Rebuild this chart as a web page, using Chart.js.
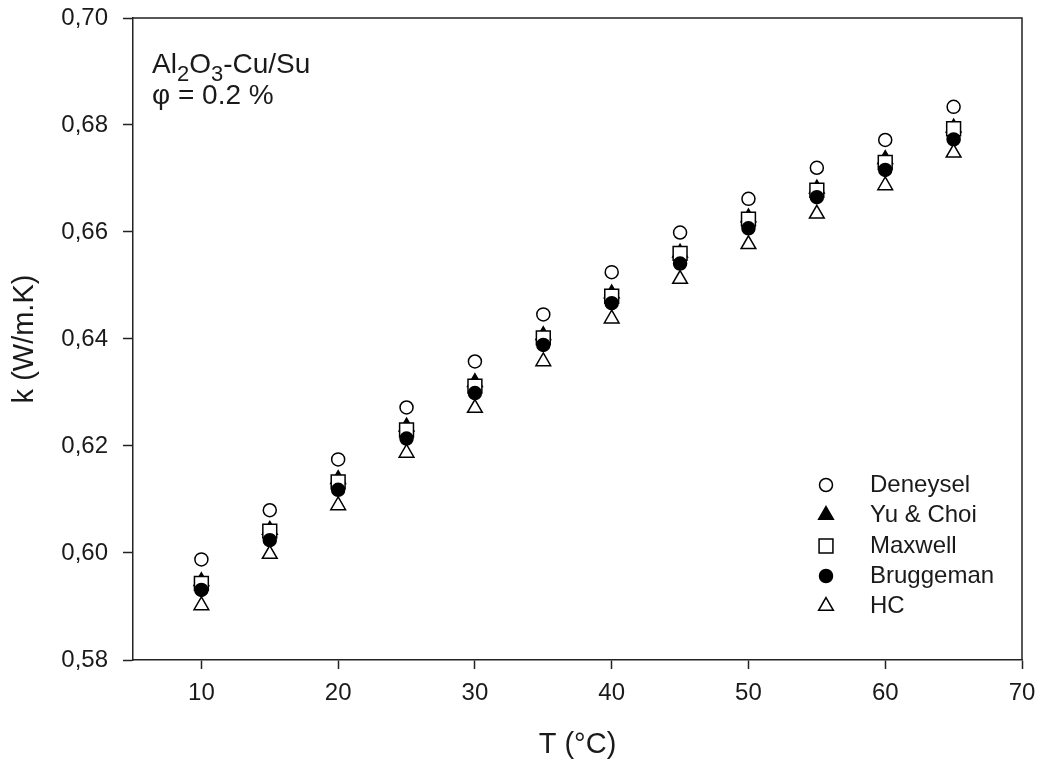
<!DOCTYPE html>
<html><head><meta charset="utf-8">
<script src="https://cdn.jsdelivr.net/npm/chart.js@4.4.1/dist/chart.umd.min.js"></script>
<style>html,body{margin:0;padding:0;background:#fff}canvas{display:block}</style>
</head><body>
<canvas id="c" width="1048" height="772"></canvas>
<script>
// ---- data ----
const temperatures = [10, 15, 20, 25, 30, 35, 40, 45, 50, 55, 60, 65];
const deneysel  = [0.5988, 0.6080, 0.6175, 0.6272, 0.6358, 0.6446, 0.6525, 0.6599, 0.6662, 0.6720, 0.6772, 0.6834];
const yuChoi    = [0.5947, 0.6043, 0.6138, 0.6236, 0.6319, 0.6407, 0.6485, 0.6561, 0.6627, 0.6681, 0.6736, 0.6795];
const maxwell   = [0.5943, 0.6041, 0.6133, 0.6230, 0.6312, 0.6402, 0.6480, 0.6560, 0.6624, 0.6678, 0.6730, 0.6793];
const bruggeman = [0.5931, 0.6024, 0.6118, 0.6214, 0.6299, 0.6389, 0.6467, 0.6541, 0.6607, 0.6665, 0.6716, 0.6773];
const hc        = [0.5902, 0.5998, 0.6089, 0.6187, 0.6271, 0.6358, 0.6438, 0.6512, 0.6577, 0.6634, 0.6687, 0.6748];
const xTickValues = [10, 20, 30, 40, 50, 60, 70];
const yTickValues = [0.58, 0.60, 0.62, 0.64, 0.66, 0.68, 0.70];
const seriesNames = ['Deneysel', 'Yu & Choi', 'Maxwell', 'Bruggeman', 'HC'];
const xTitle = 'T (°C)';
const yTitle = 'k (W/m.K)';

// ---- styling ----
const FONT = "'Liberation Sans', Arial, Helvetica, sans-serif";
const INK = '#1a1a1a';
const LINE = '#222';

function pts(vals) { return temperatures.map((t, i) => ({ x: t, y: vals[i] })); }

const styles = [
  { pointStyle: 'circle',   radius: 6.5, fill: '#ffffff', order: 1 },
  { pointStyle: 'triangle', radius: 8.5, fill: '#000000', order: 5 },
  { pointStyle: 'rect',     radius: 9.8, fill: '#ffffff', order: 4 },
  { pointStyle: 'circle',   radius: 6.5, fill: '#000000', order: 3 },
  { pointStyle: 'triangle', radius: 8.5, fill: '#ffffff', order: 2 }
];
const seriesValues = [deneysel, yuChoi, maxwell, bruggeman, hc];

const datasets = seriesNames.map((name, i) => ({
  label: name,
  data: pts(seriesValues[i]),
  showLine: false,
  pointStyle: styles[i].pointStyle,
  pointRadius: styles[i].radius,
  pointHoverRadius: styles[i].radius,
  pointBackgroundColor: styles[i].fill,
  pointBorderColor: '#000',
  pointBorderWidth: 1.5,
  order: styles[i].order
}));

function drawMarker(ctx, style, r, x, y) {
  if (window.Chart && Chart.helpers && Chart.helpers.drawPoint) {
    Chart.helpers.drawPoint(ctx, { pointStyle: style, radius: r, rotation: 0, borderWidth: 1.5 }, x, y);
    return;
  }
  ctx.beginPath();
  if (style === 'circle') ctx.arc(x, y, r, 0, Math.PI * 2);
  else if (style === 'rect') { const s = r * Math.SQRT1_2; ctx.rect(x - s, y - s, 2 * s, 2 * s); }
  else { ctx.moveTo(x, y - r); ctx.lineTo(x + r * 0.866, y + r / 2); ctx.lineTo(x - r * 0.866, y + r / 2); ctx.closePath(); }
  ctx.fill(); ctx.stroke();
}

const decorPlugin = {
  id: 'decor',
  afterDraw(chart) {
    const ctx = chart.ctx;
    const a = chart.chartArea;
    ctx.save();
    // frame top & right
    ctx.strokeStyle = LINE;
    ctx.lineWidth = 1.5;
    ctx.beginPath();
    ctx.moveTo(a.left, a.top); ctx.lineTo(a.right, a.top); ctx.lineTo(a.right, a.bottom);
    ctx.stroke();

    // annotation
    ctx.fillStyle = INK;
    ctx.textBaseline = 'alphabetic';
    ctx.textAlign = 'left';
    const runs = [['Al', 0], ['2', 1], ['O', 0], ['3', 1], ['-Cu/Su', 0]];
    let x = 152;
    const base = 73;
    runs.forEach(([t, sub]) => {
      ctx.font = (sub ? '22px ' : '28px ') + FONT;
      ctx.fillText(t, x, base + (sub ? 8 : 0));
      x += ctx.measureText(t).width;
    });
    ctx.font = '28px ' + FONT;
    ctx.fillText('φ = 0.2 %', 152, 104);

    // legend
    const lx = 826, tx = 870;
    const rows = [485, 515, 546, 576, 606];
    chart.data.datasets.forEach((ds, i) => {
      ctx.fillStyle = styles[i].fill;
      ctx.strokeStyle = '#000';
      ctx.lineWidth = 1.5;
      drawMarker(ctx, styles[i].pointStyle, styles[i].radius, lx, rows[i]);
      ctx.fillStyle = INK;
      ctx.font = '24px ' + FONT;
      ctx.textBaseline = 'middle';
      ctx.fillText(ds.label, tx, rows[i]);
    });
    ctx.restore();
  }
};

new Chart(document.getElementById('c'), {
  type: 'scatter',
  data: { datasets },
  plugins: [decorPlugin],
  options: {
    responsive: false,
    animation: false,
    devicePixelRatio: 1,
    layout: { padding: { top: 18, right: 26, left: 0, bottom: 0 } },
    plugins: { legend: { display: false }, tooltip: { enabled: false } },
    scales: {
      x: {
        type: 'linear',
        min: 5, max: 70,
        afterBuildTicks: s => { s.ticks = xTickValues.map(v => ({ value: v })); },
        afterFit: s => { s.height = 112; s.paddingLeft = 0; s.paddingRight = 0; },
        grid: { display: true, drawOnChartArea: false, drawTicks: true, tickLength: 9, tickColor: LINE, tickWidth: 1.5 },
        border: { display: true, color: LINE, width: 1.5 },
        ticks: { color: INK, font: { family: FONT, size: 24 }, padding: 10, maxRotation: 0, autoSkip: false },
        title: { display: true, text: xTitle, color: INK, font: { family: FONT, size: 29 }, padding: { top: 0, bottom: 10 } }
      },
      y: {
        type: 'linear',
        min: 0.58, max: 0.70,
        afterBuildTicks: s => { s.ticks = yTickValues.map(v => ({ value: v })); },
        afterFit: s => { s.width = 133; s.paddingTop = 0; s.paddingBottom = 0; },
        grid: { display: true, drawOnChartArea: false, drawTicks: true, tickLength: 10, tickColor: LINE, tickWidth: 1.5 },
        border: { display: true, color: LINE, width: 1.5 },
        ticks: { color: INK, font: { family: FONT, size: 24 }, padding: 15, autoSkip: false,
                 callback: v => Number(v).toFixed(2).replace('.', ',') },
        title: { display: true, text: yTitle, color: INK, font: { family: FONT, size: 29 }, padding: { top: 8, bottom: 0 } }
      }
    }
  }
});
</script>
</body></html>
